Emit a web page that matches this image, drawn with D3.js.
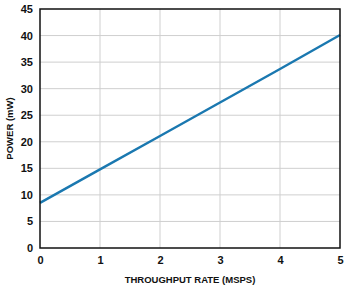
<!DOCTYPE html>
<html lang="en">
<head>
    <meta charset="UTF-8">
    <title>power vs throughput</title>
    <script src="https://cdn.jsdelivr.net/npm/d3@7"></script>
    <style>
        body { margin: 0; background: #fff; }
        .tick text {
            font-family: Arial, "Liberation Sans", sans-serif;
            font-size: 11px;
            font-weight: bold;
            fill: #111;
        }
        .title {
            font-family: Arial, "Liberation Sans", sans-serif;
            font-size: 9.5px;
            font-weight: bold;
            fill: #111;
        }
    </style>
</head>
<body>
<script>
    // values
    const rate = [0, 1, 2, 3, 4, 5]
    const power = [8.5, 14.8, 21.1, 27.4, 33.7, 40.1]
    const xTicks = [0, 1, 2, 3, 4, 5]
    const yTicks = [0, 5, 10, 15, 20, 25, 30, 35, 40, 45]

    const width = 349
    const height = 292
    const margin = { left: 40, right: 9, top: 9, bottom: 44 }

    const svg = d3.select('body').append('svg').attr('width', width).attr('height', height)

    const x = d3.scaleLinear().domain([0, 5]).range([margin.left, width - margin.right])
    const y = d3.scaleLinear().domain([0, 45]).range([height - margin.bottom, margin.top])

    // grid
    svg.append('g')
        .selectAll('line.v')
        .data(xTicks.slice(1, -1))
        .enter()
        .append('line')
        .attr('x1', d => x(d)).attr('x2', d => x(d))
        .attr('y1', y(0)).attr('y2', y(45))
        .attr('stroke', '#cfcfcf').attr('stroke-width', 1)

    svg.append('g')
        .selectAll('line.h')
        .data(yTicks.slice(1, -1))
        .enter()
        .append('line')
        .attr('x1', x(0)).attr('x2', x(5))
        .attr('y1', d => y(d)).attr('y2', d => y(d))
        .attr('stroke', '#cfcfcf').attr('stroke-width', 1)

    // axes (labels only, frame drawn below)
    const xAxis = d3.axisBottom(x).tickValues(xTicks).tickFormat(d3.format('d')).tickSize(0).tickPadding(8)
    const yAxis = d3.axisLeft(y).tickValues(yTicks).tickFormat(d3.format('d')).tickSize(0).tickPadding(7)

    svg.append('g')
        .attr('transform', 'translate(0,' + y(0) + ')')
        .call(xAxis)
        .call(g => g.select('.domain').remove())

    svg.append('g')
        .attr('transform', 'translate(' + x(0) + ',0)')
        .call(yAxis)
        .call(g => g.select('.domain').remove())

    // data line
    const line = d3.line()
        .x((d, i) => x(rate[i]))
        .y(d => y(d))

    svg.append('path')
        .datum(power)
        .attr('d', line)
        .attr('fill', 'none')
        .attr('stroke', '#1a78b0')
        .attr('stroke-width', 2.4)

    // frame
    svg.append('rect')
        .attr('x', x(0)).attr('y', y(45))
        .attr('width', x(5) - x(0)).attr('height', y(0) - y(45))
        .attr('fill', 'none')
        .attr('stroke', '#111')
        .attr('stroke-width', 1.5)

    // titles
    svg.append('text')
        .attr('class', 'title')
        .attr('x', (x(0) + x(5)) / 2)
        .attr('y', 283)
        .attr('text-anchor', 'middle')
        .text('THROUGHPUT RATE (MSPS)')

    svg.append('text')
        .attr('class', 'title')
        .attr('transform', 'translate(13,' + (y(22.5)) + ') rotate(-90)')
        .attr('text-anchor', 'middle')
        .text('POWER (mW)')
</script>
</body>
</html>
